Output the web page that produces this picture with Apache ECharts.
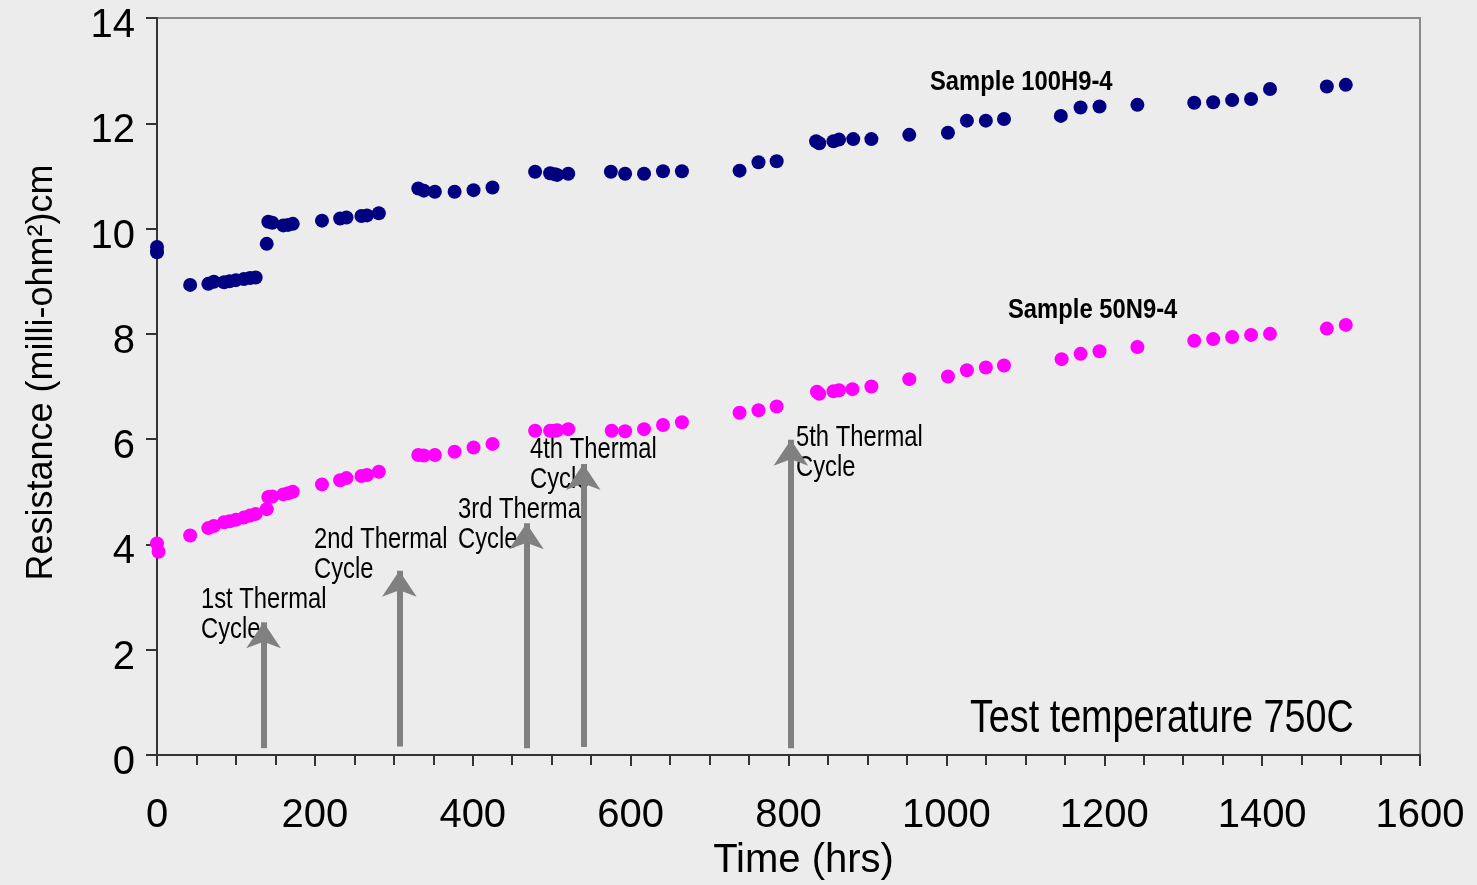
<!DOCTYPE html>
<html>
<head>
<meta charset="utf-8">
<title>Resistance vs Time</title>
<script src="https://cdn.jsdelivr.net/npm/echarts@6/dist/echarts.min.js"></script>
<style>
  html, body { margin: 0; padding: 0; background: #ececec; }
  #container { width: 1477px; height: 885px; }
</style>
</head>
<body>
<div id="container"></div>
<script>
// sample 100H9-4 (navy)
const timeH = [0, 0, 42, 65, 72, 85, 92, 100, 110, 118, 125, 139, 141, 146, 160, 166, 172, 209, 232, 240, 259, 266, 281,
  331, 338, 352, 377, 401, 425, 479, 498, 504, 507, 521, 575, 593, 617, 641, 665, 738, 762, 785,
  835, 839, 857, 864, 882, 905, 953, 1002, 1026, 1050, 1073, 1145, 1170, 1194, 1242, 1314, 1338, 1362, 1386, 1410, 1482, 1506];
const resH = [9.65, 9.55, 8.93, 8.95, 8.99, 8.98, 9.00, 9.02, 9.04, 9.06, 9.07, 9.71, 10.13, 10.11, 10.06, 10.07, 10.09, 10.15, 10.19, 10.21, 10.24, 10.25, 10.29,
  10.76, 10.72, 10.70, 10.70, 10.73, 10.78, 11.08, 11.05, 11.03, 11.02, 11.04, 11.08, 11.04, 11.04, 11.09, 11.09, 11.10, 11.26, 11.28,
  11.66, 11.62, 11.66, 11.69, 11.70, 11.70, 11.78, 11.82, 12.05, 12.05, 12.08, 12.14, 12.30, 12.32, 12.35, 12.39, 12.40, 12.44, 12.46, 12.65, 12.70, 12.73];

// sample 50N9-4 (magenta)
const timeN = [0, 2, 42, 65, 72, 85, 92, 100, 110, 118, 125, 139, 141, 146, 160, 166, 172, 209, 232, 240, 259, 266, 281,
  331, 338, 352, 377, 401, 425, 479, 498, 504, 507, 521, 576, 593, 617, 641, 665, 738, 762, 785,
  836, 839, 857, 864, 881, 905, 953, 1002, 1026, 1050, 1073, 1146, 1170, 1194, 1242, 1314, 1338, 1362, 1386, 1410, 1482, 1506];
const resN = [4.02, 3.86, 4.17, 4.31, 4.35, 4.42, 4.44, 4.47, 4.51, 4.55, 4.58, 4.67, 4.90, 4.91, 4.95, 4.97, 5.00, 5.14, 5.22, 5.26, 5.30, 5.32, 5.38,
  5.70, 5.69, 5.70, 5.76, 5.84, 5.91, 6.16, 6.16, 6.16, 6.17, 6.19, 6.16, 6.15, 6.19, 6.27, 6.32, 6.50, 6.55, 6.62,
  6.90, 6.86, 6.91, 6.93, 6.95, 7.00, 7.14, 7.19, 7.31, 7.36, 7.40, 7.52, 7.62, 7.67, 7.75, 7.87, 7.90, 7.94, 7.98, 8.00, 8.10, 8.17];

// thermal cycle arrows
const cycleTime = [135, 307, 468, 540, 803];
const cycleBase = [0.13, 0.16, 0.13, 0.15, 0.13];
const cycleTip = [2.52, 3.5, 4.4, 5.53, 5.99];

const font = '"Liberation Sans", Arial, sans-serif';

function pairs(xs, ys) {
  return xs.map((x, i) => [x, ys[i]]);
}

var dom = document.getElementById('container');
var myChart = echarts.init(dom, null, { renderer: 'canvas' });

// narrow-looking text: Liberation Sans squeezed horizontally
function txt(left, top, text, size, bold, sx) {
  return {
    type: 'text', x: left, y: top, z: 1, scaleX: sx || 0.82,
    style: {
      text: text, fill: '#000', font: (bold ? 'bold ' : '') + size + 'px ' + font,
      lineHeight: 30
    }
  };
}

var option = {
  backgroundColor: '#ececec',
  animation: false,
  grid: {
    left: 157, right: 57, top: 18, bottom: 130,
    outerBoundsMode: 'none',
    show: true, borderColor: '#8a8a8a', borderWidth: 2, backgroundColor: 'transparent'
  },
  xAxis: {
    type: 'value', min: 0, max: 1600, interval: 200,
    name: 'Time (hrs)', nameLocation: 'middle', nameGap: 86,
    nameTextStyle: { fontFamily: font, fontSize: 40, color: '#000', padding: [0, 0, 0, 30] },
    axisLine: { show: true, onZero: false, lineStyle: { color: '#333', width: 2 } },
    axisTick: { show: true, length: 11, lineStyle: { color: '#333', width: 2 } },
    minorTick: { show: true, splitNumber: 4, length: 10, lineStyle: { color: '#333', width: 2 } },
    splitLine: { show: false },
    axisLabel: { fontFamily: font, fontSize: 40, color: '#000', margin: 41, formatter: (v) => String(v) }
  },
  yAxis: {
    type: 'value', min: 0, max: 14, interval: 2,
    name: 'Resistance (milli-ohm\u00b2)cm', nameLocation: 'middle', nameGap: 97,
    nameTextStyle: { fontFamily: font, fontSize: 36, color: '#000', padding: [0, 0, 0, 28] },
    axisLine: { show: true, lineStyle: { color: '#333', width: 2 } },
    axisTick: { show: true, length: 11, lineStyle: { color: '#333', width: 2 } },
    splitLine: { show: false },
    axisLabel: {
      margin: 22,
      formatter: (v) => '{n|' + v + '}',
      rich: { n: { fontFamily: font, fontSize: 40, color: '#000', padding: [16, 0, 0, 0] } }
    }
  },
  graphic: [
    txt(930, 67, 'Sample 100H9-4', 28, true, 0.85),
    txt(1008, 295, 'Sample 50N9-4', 28, true, 0.85),
    txt(970, 704, 'Test temperature 750C', 46, false),
    txt(201, 585, '1st Thermal\nCycle', 29, false),
    txt(314, 525, '2nd Thermal\nCycle', 29, false),
    txt(458, 495, '3rd Thermal\nCycle', 29, false),
    txt(530, 435, '4th Thermal\nCycle', 29, false),
    txt(796, 423, '5th Thermal\nCycle', 29, false)
  ],
  series: [
    {
      name: 'Sample 100H9-4', type: 'scatter', symbolSize: 14,
      itemStyle: { color: '#000080', opacity: 1 }, z: 3,
      data: pairs(timeH, resH)
    },
    {
      name: 'Sample 50N9-4', type: 'scatter', symbolSize: 14,
      itemStyle: { color: '#ff00ff', opacity: 1 }, z: 3,
      data: pairs(timeN, resN)
    },
    {
      name: 'Thermal cycles', type: 'lines', coordinateSystem: 'cartesian2d', z: 5,
      symbol: ['none', 'arrow'], symbolSize: [22, 26],
      lineStyle: { color: '#808080', width: 6, opacity: 1 },
      data: cycleTime.map((t, i) => ({ coords: [[t, cycleBase[i]], [t, cycleTip[i]]] }))
    }
  ]
};

if (option && typeof option === 'object') {
  myChart.setOption(option);
}
window.addEventListener('resize', myChart.resize);
</script>
</body>
</html>
